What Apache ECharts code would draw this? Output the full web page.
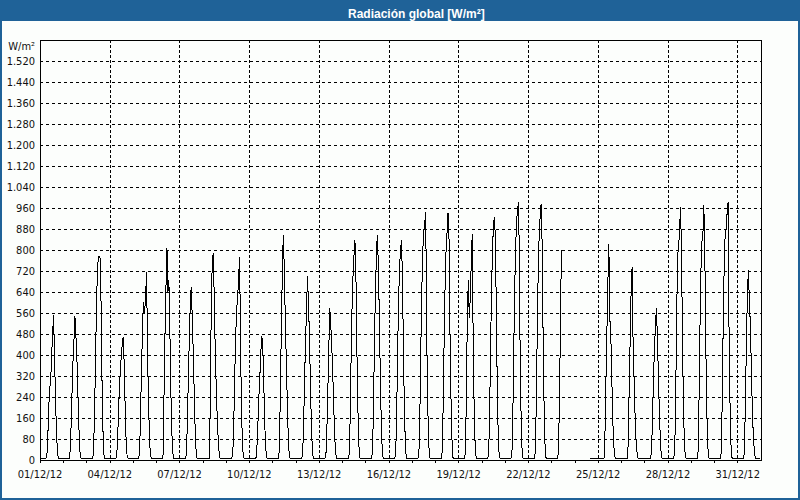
<!DOCTYPE html>
<html><head><meta charset="utf-8">
<script src="https://cdn.jsdelivr.net/npm/echarts@6/dist/echarts.min.js"></script>
<style>html,body{margin:0;padding:0;background:#fff}#c{width:800px;height:500px}
#c svg path,#c svg rect,#c svg line,#c svg polyline{shape-rendering:crispEdges}</style>
</head><body><div id="c"></div>
<script>
const TITLE = 'Radiación global [W/m²]';
const UNIT = 'W/m²';
const DATE_SUFFIX = '/12/12';
const N_DAYS = 31;
const HOURS_PER_DAY = 24;
const Y_MAX = 1600;
const Y_STEP = 80;
const LABEL_EVERY_DAYS = 3;
// night-time reading (W/m²)
const NIGHT = 6;
// hourly readings from 07:00 to 18:00 for each day of December 2012
const DAY_FIRST_HOUR = 7;
const d01 = [10, 80, 200, 270, 300, 400, 480, 552, 400, 230, 110, 30];
const d02 = [30, 120, 250, 370, 450, 550, 480, 400, 270, 140, 40, 8];
const d03 = [20, 130, 320, 530, 690, 765, 778, 770, 600, 300, 110, 20];
const d04 = [10, 70, 180, 280, 350, 400, 450, 470, 350, 180, 60, 10];
const d05 = [60, 220, 380, 540, 600, 560, 630, 718, 400, 220, 80, 15];
const d06 = [20, 250, 480, 660, 806, 640, 686, 500, 270, 110, 30, 6];
const d07 = [20, 130, 300, 450, 590, 660, 560, 430, 280, 130, 40, 8];
const d08 = [6, 350, 650, 770, 790, 560, 400, 260, 150, 70, 20, 6];
const d09 = [30, 150, 330, 480, 580, 620, 700, 775, 420, 180, 50, 8];
const d10 = [10, 60, 150, 250, 330, 420, 472, 420, 280, 130, 40, 8];
const d11 = [40, 250, 500, 700, 857, 740, 560, 400, 250, 110, 30, 6];
const d12 = [20, 130, 300, 450, 571, 700, 600, 480, 300, 140, 40, 8];
const d13 = [15, 110, 260, 420, 578, 520, 440, 340, 220, 100, 30, 6];
const d14 = [20, 150, 380, 580, 700, 780, 838, 700, 420, 200, 60, 8];
const d15 = [25, 170, 420, 620, 760, 857, 760, 580, 360, 170, 50, 8];
const d16 = [20, 160, 400, 600, 730, 800, 838, 700, 420, 200, 60, 8];
const d17 = [25, 180, 430, 650, 800, 870, 900, 946, 500, 230, 70, 10];
const d18 = [30, 200, 450, 660, 800, 864, 942, 860, 500, 250, 90, 10];
const d19 = [30, 250, 560, 686, 540, 620, 750, 860, 450, 200, 60, 10];
const d20 = [25, 180, 440, 660, 810, 900, 927, 830, 520, 240, 70, 10];
const d21 = [25, 190, 450, 680, 830, 920, 960, 982, 560, 250, 70, 10];
const d22 = [25, 190, 460, 700, 845, 920, 974, 850, 520, 240, 70, 10];
const d23 = [30, 220, 500, 800, null, null, null, null, null, null, null, null];
const d24 = [null, null, null, null, null, null, null, null, null, 6, 6, 6];
const d25 = [100, 300, 490, 680, 822, 540, 480, 320, 160, 60, 15, 6];
const d26 = [60, 280, 460, 650, 737, 450, 310, 180, 80, 30, 8, 6];
const d27 = [30, 150, 300, 420, 500, 578, 480, 340, 200, 90, 25, 6];
const d28 = [40, 250, 560, 780, 810, 880, 965, 780, 450, 200, 60, 10];
const d29 = [30, 220, 500, 720, 830, 850, 970, 800, 450, 200, 60, 10];
const d30 = [30, 230, 520, 740, 860, 880, 940, 982, 500, 220, 60, 10];
const d31 = [30, 250, 450, 640, 724, 600, 520, 360, 200, 100, 40, 8];
const dailyProfiles = [d01,d02,d03,d04,d05,d06,d07,d08,d09,d10,d11,d12,d13,d14,d15,d16,
  d17,d18,d19,d20,d21,d22,d23,d24,d25,d26,d27,d28,d29,d30,d31];
// missing readings: from 23/12 11:00 to 24/12 15:00
const GAP_FROM = 22 * 24 + 11;
const GAP_TO = 23 * 24 + 15;

const data = [];
dailyProfiles.forEach((prof, d) => {
  for (let h = 0; h < HOURS_PER_DAY; h++) {
    const t = d * HOURS_PER_DAY + h;
    let v = (h >= DAY_FIRST_HOUR && h < DAY_FIRST_HOUR + prof.length) ? prof[h - DAY_FIRST_HOUR] : NIGHT;
    if (t >= GAP_FROM && t <= GAP_TO) v = null;
    data.push([t, v]);
  }
});

const FONT = '"DejaVu Sans Condensed", "Liberation Sans", sans-serif';
const BLUE = '#1f6298';
const X_MAX = N_DAYS * HOURS_PER_DAY;
const pad = n => (n < 10 ? '0' : '') + n;
const fmtY = v => v >= 1000 ? Math.floor(v / 1000) + '.' + String(v % 1000).padStart(3, '0') : String(v);

const chart = echarts.init(document.getElementById('c'), null, {renderer: 'svg'});
chart.setOption({
  animation: false,
  backgroundColor: '#fcfefc',
  title: {
    text: TITLE, left: 343, top: 3,
    textStyle: {color: '#ffffff', fontWeight: 'bold', fontSize: 12, fontFamily: '"Liberation Sans", Arial, sans-serif'}
  },
  graphic: [
    {type: 'rect', z: 0, shape: {x: 0, y: 0, width: 800, height: 21}, style: {fill: BLUE}},
    {type: 'rect', z: 100, shape: {x: 0, y: 0, width: 800, height: 500}, style: {fill: 'none', stroke: BLUE, lineWidth: 4}}
  ],
  grid: {left: 40, right: 39, top: 40, bottom: 40, show: true, borderColor: '#000', borderWidth: 1, backgroundColor: 'transparent'},
  xAxis: [{
    type: 'value', min: 0, max: X_MAX, interval: HOURS_PER_DAY,
    axisLine: {show: true, onZero: false, lineStyle: {color: '#000', width: 1}},
    axisTick: {show: true, length: 3, lineStyle: {color: '#000'}},
    splitLine: {show: false},
    axisLabel: {
      margin: 9, color: '#111', fontSize: 11, fontFamily: FONT, showMaxLabel: false,
      formatter: v => (v % (LABEL_EVERY_DAYS * HOURS_PER_DAY) === 0 && v < X_MAX) ? pad(v / HOURS_PER_DAY + 1) + DATE_SUFFIX : ''
    }
  }, {
    type: 'value', min: 0, max: X_MAX, interval: LABEL_EVERY_DAYS * HOURS_PER_DAY, position: 'bottom',
    axisLine: {show: false}, axisTick: {show: false}, axisLabel: {show: false},
    splitLine: {show: true, lineStyle: {color: '#000', width: 1, type: [3, 2]}}
  }],
  yAxis: {
    type: 'value', min: 0, max: Y_MAX, interval: Y_STEP,
    axisLine: {show: true, lineStyle: {color: '#000', width: 1}},
    axisTick: {show: false},
    splitLine: {show: true, lineStyle: {color: '#000', width: 1, type: [3, 3]}},
    axisLabel: {
      margin: 5, color: '#111', fontSize: 11, fontFamily: FONT,
      formatter: v => v === Y_MAX ? '{u|' + UNIT + '}' : fmtY(v),
      rich: {u: {padding: [12, 0, 0, 0], color: '#111', fontSize: 11, fontFamily: FONT}}
    }
  },
  series: [{
    type: 'line', data: data, xAxisIndex: 0, showSymbol: false, connectNulls: false, silent: true,
    lineStyle: {color: '#000', width: 1}
  }]
});
</script></body></html>
